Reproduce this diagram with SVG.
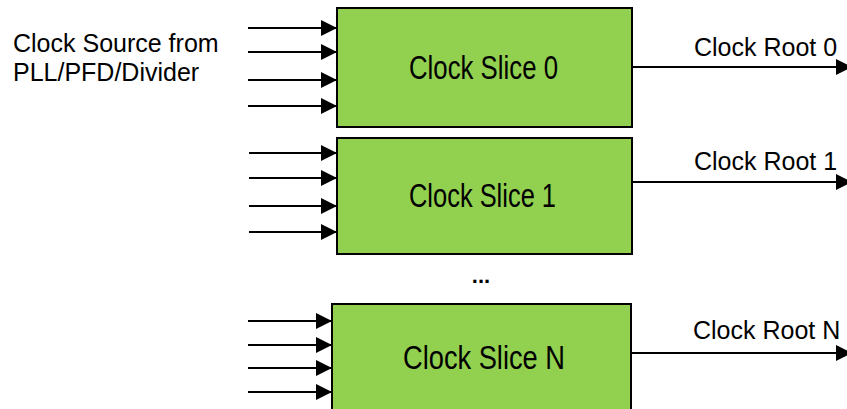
<svg xmlns="http://www.w3.org/2000/svg" width="847" height="409" viewBox="0 0 847 409">
<style>
.box{fill:#92D050;stroke:#000;stroke-width:2}
.lbl{font-family:"Liberation Sans",Arial,sans-serif;font-size:25px;fill:#000}
.blbl{font-family:"Liberation Sans",Arial,sans-serif;font-size:34px;fill:#000}
.wire{stroke:#000;stroke-width:2;fill:none;marker-end:url(#ah)}
</style>
<defs>
<marker id="ah" markerUnits="userSpaceOnUse" markerWidth="16" markerHeight="16" refX="16" refY="8" orient="auto" overflow="visible">
<path d="M0,0 L16,8 L0,16 Z" fill="#000"/>
</marker>
</defs>
<rect width="847" height="409" fill="#fff"/>
<text id="source" class="lbl" x="13" y="52">Clock Source from</text>
<text class="lbl" x="13" y="81">PLL/PFD/Divider</text>
<g id="slice0">
<rect class="box" x="337" y="8" width="295" height="119"/>
<text class="blbl" x="409" y="79" textLength="149" lengthAdjust="spacingAndGlyphs">Clock Slice 0</text>
</g>
<g id="slice1">
<rect class="box" x="337" y="138" width="295" height="116"/>
<text class="blbl" x="409" y="207" textLength="147" lengthAdjust="spacingAndGlyphs">Clock Slice 1</text>
</g>
<g id="sliceN">
<rect class="box" x="332" y="304" width="299" height="120"/>
<text class="blbl" x="403" y="369" textLength="162" lengthAdjust="spacingAndGlyphs">Clock Slice N</text>
</g>
<text id="ellipsis" x="481" y="283" text-anchor="middle" font-family="Liberation Sans,Arial,sans-serif" font-size="22" font-weight="bold">...</text>
<g id="connectors">
<line class="wire" x1="248" y1="28" x2="337" y2="28"/>
<line class="wire" x1="248" y1="52" x2="337" y2="52"/>
<line class="wire" x1="248" y1="80" x2="337" y2="80"/>
<line class="wire" x1="248" y1="106" x2="337" y2="106"/>
<line class="wire" x1="249" y1="153" x2="337" y2="153"/>
<line class="wire" x1="249" y1="178" x2="337" y2="178"/>
<line class="wire" x1="249" y1="206" x2="337" y2="206"/>
<line class="wire" x1="249" y1="232" x2="337" y2="232"/>
<line class="wire" x1="248" y1="321" x2="332" y2="321"/>
<line class="wire" x1="248" y1="345" x2="332" y2="345"/>
<line class="wire" x1="248" y1="368" x2="332" y2="368"/>
<line class="wire" x1="248" y1="392" x2="332" y2="392"/>
<line class="wire" x1="632" y1="67" x2="852" y2="67"/>
<line class="wire" x1="632" y1="182" x2="852" y2="182"/>
<line class="wire" x1="631" y1="353" x2="852" y2="353"/>
</g>
<text class="lbl" x="694" y="56">Clock Root 0</text>
<text class="lbl" x="694" y="170">Clock Root 1</text>
<text class="lbl" x="693" y="339">Clock Root N</text>
</svg>
